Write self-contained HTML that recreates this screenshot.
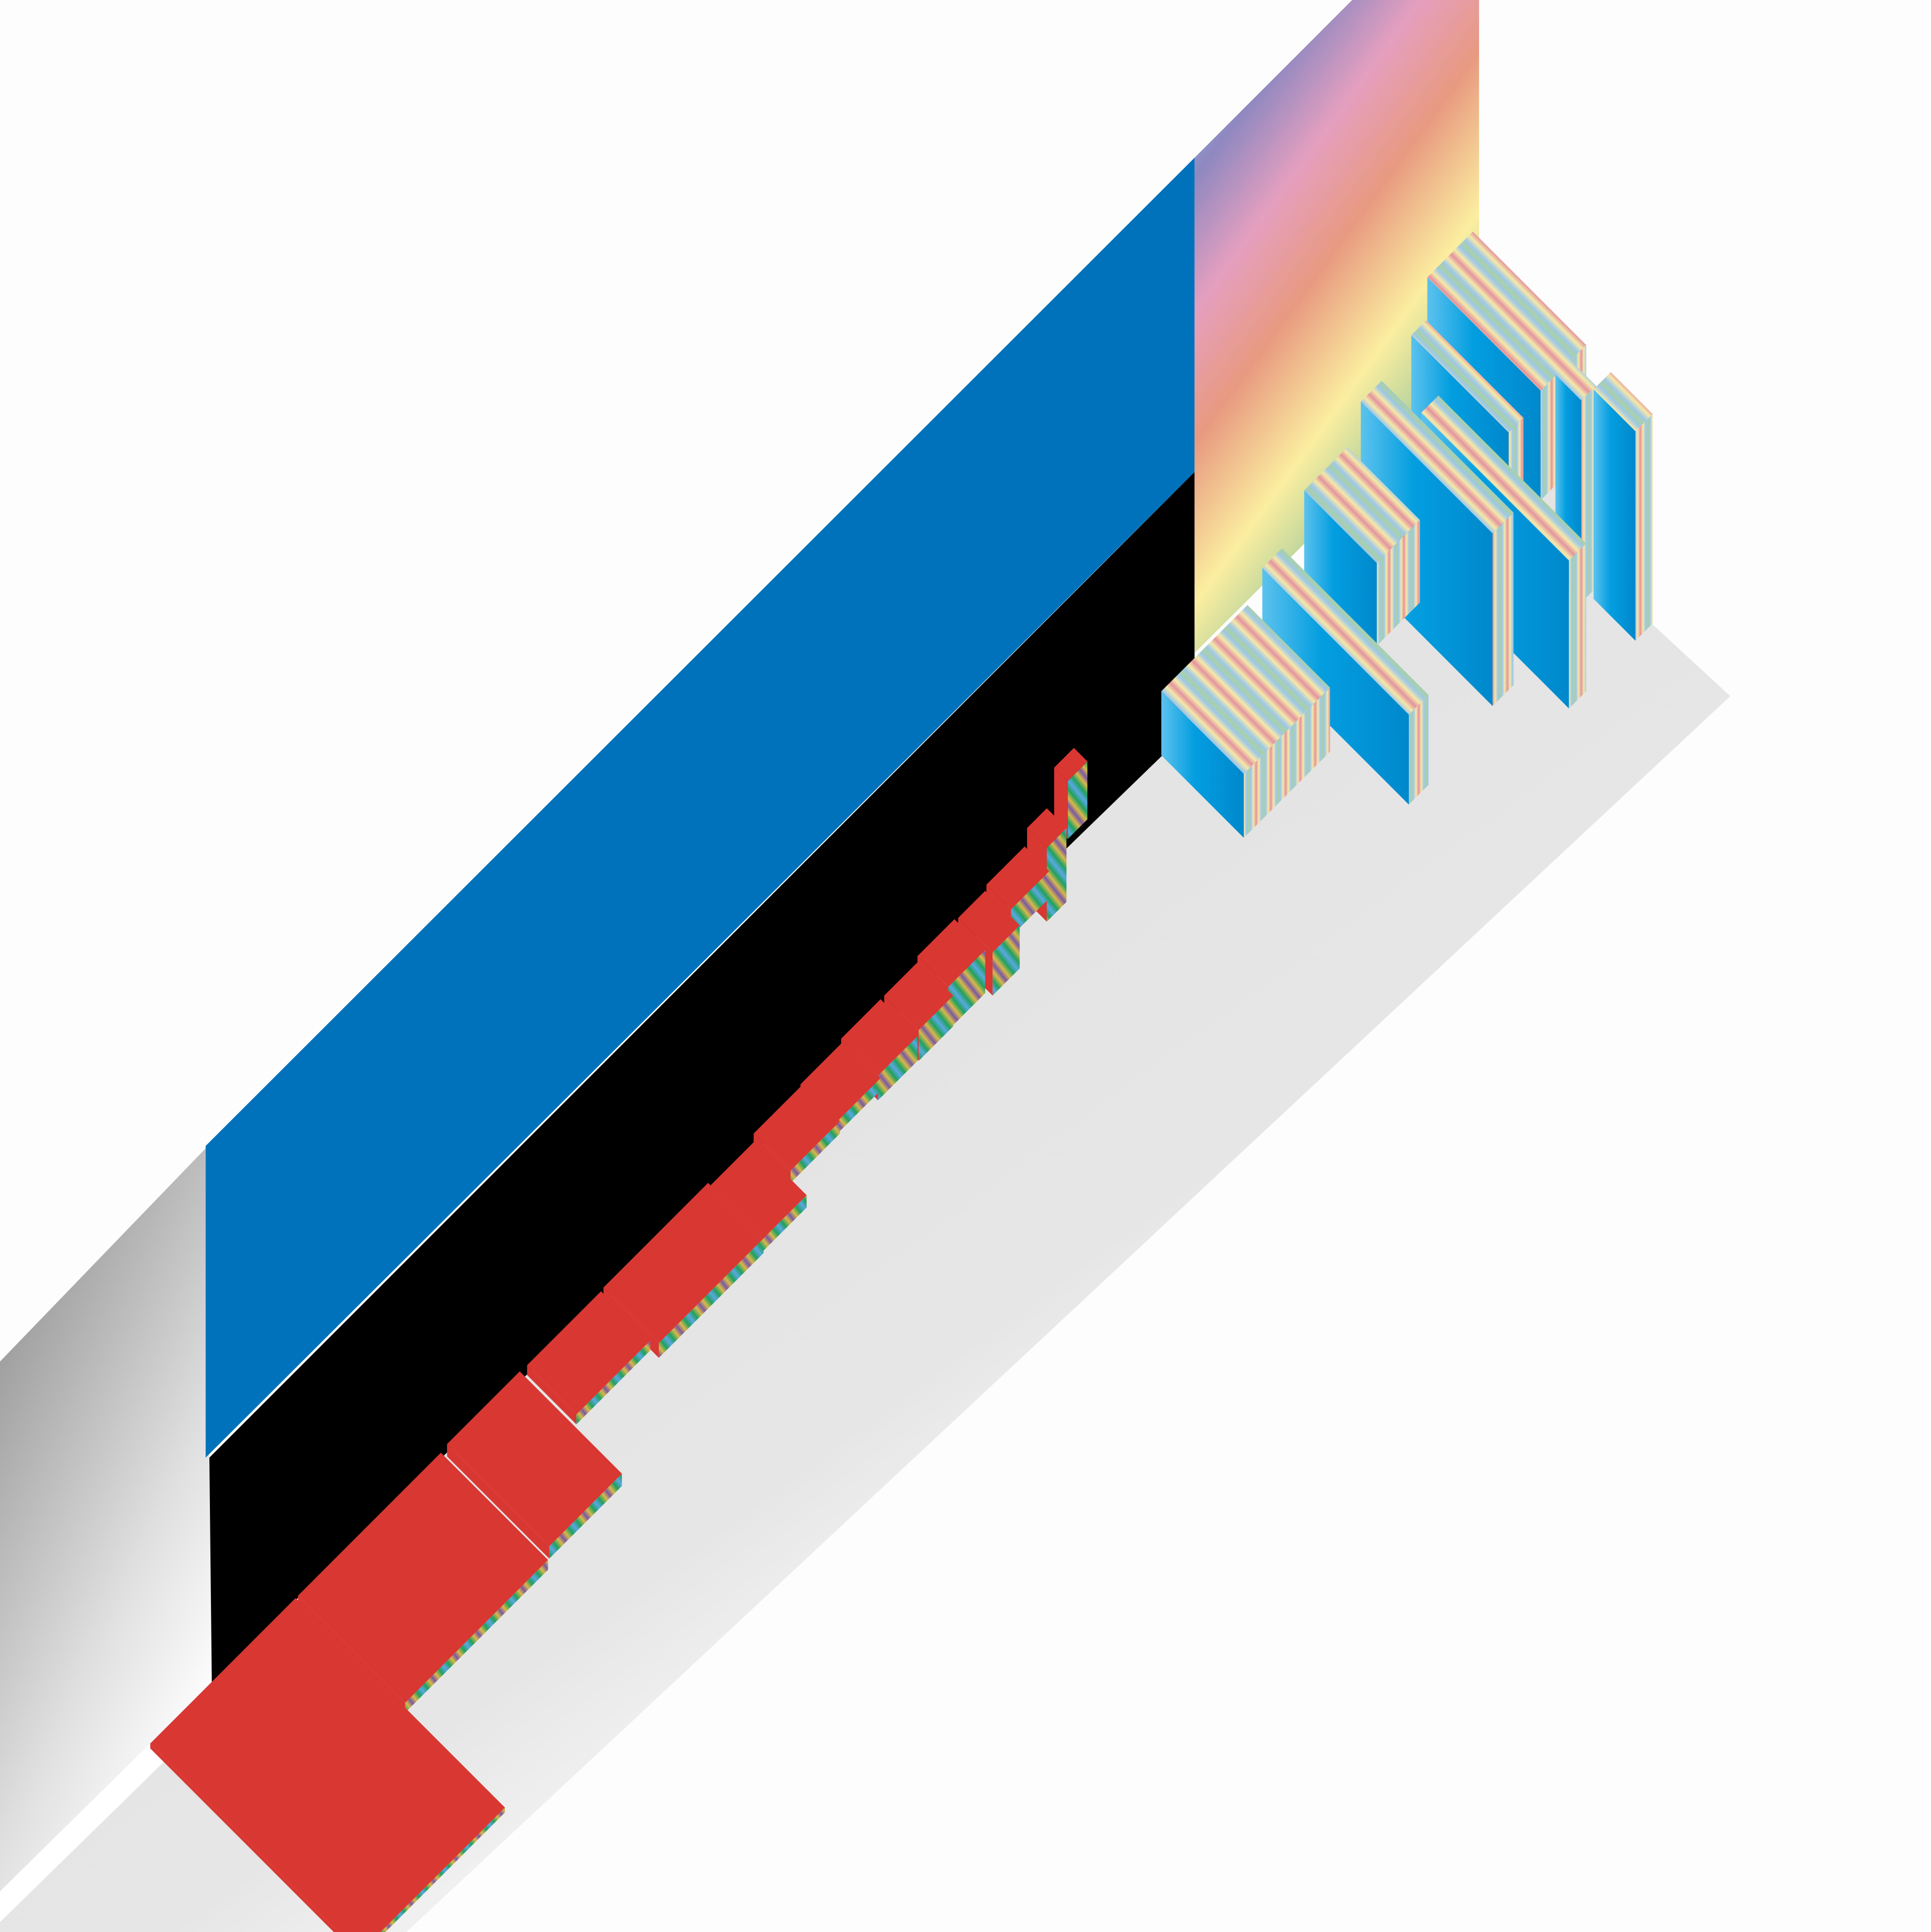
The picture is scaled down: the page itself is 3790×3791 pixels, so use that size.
<!DOCTYPE html>
<html><head><meta charset="utf-8"><style>
html,body{margin:0;padding:0;background:#fdfdfd;}
svg{display:block}
</style></head><body>
<svg id="scene" width="3790" height="3791" viewBox="0 0 1568 1568" preserveAspectRatio="none" xmlns="http://www.w3.org/2000/svg">
<defs>
<linearGradient id="shadow" x1="0.45" y1="0.45" x2="0.7" y2="0.75">
<stop offset="0" stop-color="#e4e4e4"/><stop offset="0.5" stop-color="#e6e6e6"/><stop offset="1" stop-color="#fdfdfd"/></linearGradient>
<linearGradient id="grayleft" x1="0" y1="0" x2="0.6" y2="1">
<stop offset="0" stop-color="#858585"/><stop offset="0.7" stop-color="#e0e0e0"/><stop offset="1" stop-color="#ffffff"/></linearGradient>
<linearGradient id="rainbow" x1="0" y1="0" x2="0.6" y2="1">
<stop offset="0" stop-color="#8fd0f0"/><stop offset="0.2" stop-color="#8f88c0"/><stop offset="0.35" stop-color="#e59fbf"/><stop offset="0.5" stop-color="#e89a80"/><stop offset="0.68" stop-color="#fbeea0"/><stop offset="0.85" stop-color="#9cc89a"/><stop offset="1" stop-color="#9cc89a"/></linearGradient>
<linearGradient id="stripesTop" x1="0" y1="0" x2="9" y2="-9" gradientUnits="userSpaceOnUse" spreadMethod="reflect">
<stop offset="0" stop-color="#e3949f"/><stop offset="0.35" stop-color="#f6e8a8"/><stop offset="0.7" stop-color="#9fc8e8"/><stop offset="1" stop-color="#a8d0a8"/></linearGradient>
<linearGradient id="stripesSide" x1="0" y1="0" x2="6" y2="0" gradientUnits="userSpaceOnUse" spreadMethod="reflect">
<stop offset="0" stop-color="#e3949f"/><stop offset="0.35" stop-color="#f6e8a8"/><stop offset="0.7" stop-color="#9fc8e8"/><stop offset="1" stop-color="#a8d0a8"/></linearGradient>
<linearGradient id="stripes2" x1="0" y1="0" x2="10" y2="-8" gradientUnits="userSpaceOnUse" spreadMethod="reflect">
<stop offset="0" stop-color="#5aa8e0"/><stop offset="0.35" stop-color="#20a060"/><stop offset="0.7" stop-color="#d8b84a"/><stop offset="1" stop-color="#7a5aa0"/></linearGradient>
<linearGradient id="bluefront" x1="0" y1="0" x2="1" y2="0">
<stop offset="0" stop-color="#5cc2ee"/><stop offset="0.4" stop-color="#039ee0"/><stop offset="1" stop-color="#0088cc"/></linearGradient>
</defs>
<rect width="1568" height="1568" fill="#fdfdfd"/>
<polygon points="940,615 1100,440 1260,330 1340,505 1405,565 330,1568 0,1568 0,1480 120,1400" fill="url(#shadow)"/>
<polygon points="0,1105 167,932 172,1365 122,1415 0,1535" fill="url(#grayleft)"/>
<polygon points="0,1535 122,1415 135,1428 0,1560" fill="#ffffff"/>
<polygon points="167,930 970,128 970,383 167,1183" fill="#0072bc"/>
<polygon points="170,1183 970,383 970,540 1015,495 945,612 880,675 172,1365" fill="#000"/>
<polygon points="970,128 1098,0 1201,0 1201,300 970,530" fill="url(#rainbow)"/>
<g id="boxes"></g>
<g id="red"></g>
</svg>
<script>
// red boxes (left corner x,y; s = up-right extent; d = down-right extent; h = height)
const redX = [856,834,801,778,745,718,683,650,612,577,490,428,363,242,122];
const redY = [623,672,718,745,776,808,843,880,920,962,1045,1108,1172,1295,1415];
const redS = [16,16,31,22,30,28,32,35,40,35,85,60,59,116,118];
const redD = [11,16,20,28,25,28,30,30,30,43,45,40,83,87,170];
const redH = [47,60,22,35,35,25,20,10,10,10,12,8,10,8,4];
// blue boxes (front face top-left x,y; run r; height h; top depth t)
const boxX = [1159,1263,1294,1146,1154,1105,1059,1025,943];
const boxY = [225,304,316,272,335,326,398,461,561];
const boxR = [92,21,34,79,120,107,59,119,67];
const boxH = [89,164,170,100,120,140,67,73,52];
const boxT = [37,12,14,12,14,17,35,16,70];
(function(){
var NS='http://www.w3.org/2000/svg';
function poly(g,name,pts,fill){
  var p=document.createElementNS(NS,'polygon');
  
  
  p.setAttribute('points',pts.map(function(q){return q[0]+','+q[1];}).join(' '));
  p.setAttribute('fill',fill);
  g.appendChild(p);
}
var bg=document.getElementById('boxes');
for(var j=0;j<boxX.length;j++){
  var x=boxX[j], y=boxY[j], r=boxR[j], h=boxH[j], t=boxT[j];
  poly(bg,'box-top',[[x,y],[x+t,y-t],[x+t+r,y-t+r],[x+r,y+r]],'url(#stripesTop)');
  poly(bg,'box-side',[[x+r,y+r],[x+r+t,y+r-t],[x+r+t,y+r-t+h],[x+r,y+r+h]],'url(#stripesSide)');
  poly(bg,'box-front',[[x,y],[x+r,y+r],[x+r,y+r+h],[x,y+h]],'url(#bluefront)');
}
var rg=document.getElementById('red');
for(var i=0;i<redX.length;i++){
  var a=redX[i], b=redY[i], s=redS[i], d=redD[i], hh=redH[i];
  poly(rg,'red-block-side',[[a+d,b+d],[a+s+d,b-s+d],[a+s+d,b-s+d+hh],[a+d,b+d+hh]],'url(#stripes2)');
  poly(rg,'red-block-front',[[a,b],[a+d,b+d],[a+d,b+d+hh],[a,b+hh]],'#d93732');
  poly(rg,'red-block-top',[[a,b],[a+s,b-s],[a+s+d,b-s+d],[a+d,b+d]],'#d93732');
}
})();
</script>
</body></html>
